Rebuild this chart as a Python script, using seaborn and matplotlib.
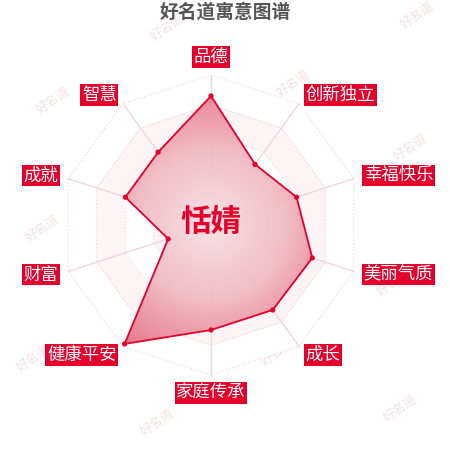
import numpy as np
import matplotlib
matplotlib.use("Agg")
import matplotlib.pyplot as plt
from matplotlib.colors import LinearSegmentedColormap
from matplotlib.patches import Polygon
import seaborn as sns

# 数据
categories = ["品德", "创新独立", "幸福快乐", "美丽气质", "成长",
              "家庭传承", "健康平安", "财富", "成就", "智慧"]
values = [86, 50, 60, 71, 70, 70, 98, 30, 60, 60]
name = "恬婧"
title = "好名道寓意图谱"
watermark = "好名道"
wm_pos = [(167, 27), (417, 15), (293, 83), (410, 147), (53, 100), (42, 228),
          (393, 282), (33, 358), (277, 352), (157, 422), (400, 408)]

sns.set_theme(style="white")
plt.rcParams["font.family"] = ["Noto Sans CJK SC", "DejaVu Sans"]

RED = "#e4002b"
n = len(categories)
ang = np.deg2rad(np.arange(n) * 360 / n)

fig = plt.figure(figsize=(4.5, 4.5), dpi=100)
ax = fig.add_axes([0, 0, 1, 1])
ax.set_xlim(-211 / 1.5, 239 / 1.5)
ax.set_ylim(-225 / 1.5, 225 / 1.5)
ax.axis("off")
ax.patch.set_visible(False)

# 水印 (在图层最底部)
for px, py in wm_pos:
    fig.text(px / 450, 1 - py / 450, watermark, color="#f6e2e6", fontsize=9,
             rotation=35, ha="center", va="center", zorder=-5)

# 网格 (十边形)
levels = [20, 40, 60, 80, 100]
ring_x = lambda r: r * np.sin(np.append(ang, ang[0]))
ring_y = lambda r: r * np.cos(np.append(ang, ang[0]))
for i in range(len(levels) - 1, -1, -1):
    fc = "#fdf4f6" if i % 2 == 1 else "white"
    ax.fill(ring_x(levels[i]), ring_y(levels[i]), color=fc, zorder=1)
for lv in levels:
    ax.plot(ring_x(lv), ring_y(lv), color="#f2d2d8", lw=0.8, ls=(0, (1, 2)), zorder=2)
for a in ang:
    ax.plot([0, 100 * np.sin(a)], [0, 100 * np.cos(a)], color="#f2d6dc", lw=1, zorder=2)

# 数据区域 (径向渐变)
xs = np.array(values) * np.sin(ang)
ys = np.array(values) * np.cos(ang)
poly = Polygon(np.column_stack([xs, ys]), closed=True, fc="none", ec="none")
ax.add_patch(poly)
gx, gy = np.meshgrid(np.linspace(-100, 100, 300), np.linspace(-100, 100, 300))
rr = np.sqrt(gx ** 2 + gy ** 2)
cmap = LinearSegmentedColormap.from_list("grad", ["#f7e1e5", "#f1b8c1", "#e66a7e"])
im = ax.imshow(rr, extent=[-100, 100, -100, 100], origin="lower", cmap=cmap,
               vmin=0, vmax=100, alpha=0.92, zorder=3)
im.set_clip_path(poly)

ax.plot(np.append(xs, xs[0]), np.append(ys, ys[0]), color=RED, lw=1.3, zorder=4)
sns.scatterplot(x=xs, y=ys, color=RED, s=14, edgecolor="none", ax=ax, zorder=5)
ax.set_xlabel("")
ax.set_ylabel("")

# 标签
for a, lab in zip(ang, categories):
    s, c = np.sin(a), np.cos(a)
    if abs(s) < 0.1:
        r, ha = 112, "center"
    else:
        r, ha = 107, ("left" if s > 0 else "right")
    ax.text(r * s, r * c, lab, color="white", fontsize=12.5, ha=ha, va="center",
            bbox=dict(boxstyle="square,pad=0.1", fc=RED, ec="none"), zorder=6)

ax.text(0, 2, name, color=RED, fontsize=22, fontweight="bold",
        ha="center", va="center", zorder=6)
fig.text(0.5, 1 - 12 / 450, title, color="#555555", fontsize=13.5,
         fontweight="bold", ha="center", va="center")

fig.savefig("out.png", dpi=100)
